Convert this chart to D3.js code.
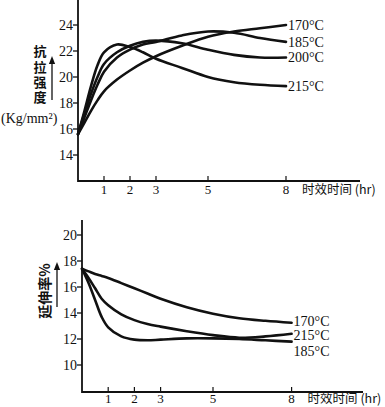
<!DOCTYPE html>
<html>
<head>
<meta charset="utf-8">
<script src="https://cdn.jsdelivr.net/npm/d3@7"></script>
<style>
  body { margin: 0; background: #fff; }
  text { fill: #111; }
</style>
</head>
<body>
<svg width="385" height="407"></svg>
<script>
var SERIF = "'Liberation Serif', 'DejaVu Serif', 'Times New Roman', serif";
var CJK = "'Noto Sans CJK SC', sans-serif";

// 时效时间 (hr)
var hoursTop = [0, 0.25, 0.5, 0.75, 1, 1.5, 2, 2.5, 3, 4, 5, 6, 7, 8];
// 抗拉强度 (Kg/mm2)
var strength170 = [15.6, 16.5, 17.4, 18.2, 18.9, 19.8, 20.5, 21.1, 21.6, 22.4, 23.1, 23.5, 23.75, 24.0];
var strength185 = [15.6, 16.9, 18.2, 19.4, 20.4, 21.5, 22.1, 22.5, 22.7, 23.2, 23.5, 23.4, 23.0, 22.7];
var strength200 = [15.6, 17.2, 18.7, 20.0, 21.0, 21.9, 22.4, 22.7, 22.8, 22.6, 22.1, 21.7, 21.5, 21.5];
var strength215 = [15.6, 17.4, 19.3, 20.9, 21.9, 22.5, 22.3, 21.9, 21.4, 20.7, 20.0, 19.6, 19.4, 19.3];
var strengthTicks = [14, 16, 18, 20, 22, 24];

var hoursBottom = [0, 0.25, 0.5, 0.75, 1, 1.5, 2, 2.5, 3, 4, 5, 6, 7, 8];
// 延伸率 %
var elong170 = [17.4, 17.2, 17.0, 16.85, 16.7, 16.3, 15.9, 15.5, 15.1, 14.45, 13.95, 13.6, 13.4, 13.25];
var elong215 = [17.4, 16.7, 15.9, 15.1, 14.6, 13.9, 13.45, 13.15, 12.95, 12.6, 12.3, 12.1, 12.2, 12.4];
var elong185 = [17.4, 16.3, 15.0, 13.7, 12.9, 12.2, 11.95, 11.9, 11.95, 12.05, 12.05, 12.0, 11.9, 11.8];
var elongTicks = [10, 12, 14, 16, 18, 20];

var hourTicks = [1, 2, 3, 5, 8];

var svg = d3.select("svg");

svg.append("defs").append("marker")
    .attr("id", "arr")
    .attr("viewBox", "0 0 10 10")
    .attr("refX", 5).attr("refY", 5)
    .attr("markerWidth", 6).attr("markerHeight", 8)
    .attr("orient", "auto")
    .append("path")
    .attr("d", "M0,1 L10,5 L0,9 Z")
    .attr("fill", "#111");

function drawPanel(opt) {
    var x = d3.scaleLinear().domain([0, 8]).range([opt.x0, opt.x0 + 8 * opt.px]);
    var y = d3.scaleLinear().domain(opt.yDomain).range(opt.yRange);

    var g = svg.append("g");

    // ejes
    g.append("line")
        .attr("x1", opt.x0).attr("x2", opt.x0)
        .attr("y1", opt.axisTop).attr("y2", opt.axisY + 1)
        .attr("stroke", "#111").attr("stroke-width", 1.8);
    g.append("line")
        .attr("x1", opt.x0).attr("x2", opt.axisRight)
        .attr("y1", opt.axisY).attr("y2", opt.axisY)
        .attr("stroke", "#111").attr("stroke-width", 1.8);

    g.selectAll(".yt").data(opt.yTicks).enter().append("line")
        .attr("x1", opt.x0 - 5).attr("x2", opt.x0)
        .attr("y1", function (d) { return y(d); })
        .attr("y2", function (d) { return y(d); })
        .attr("stroke", "#111").attr("stroke-width", 1.3);
    g.selectAll(".yl").data(opt.yTicks).enter().append("text")
        .attr("x", opt.x0 - 5)
        .attr("y", function (d) { return y(d); })
        .attr("dy", "0.35em")
        .attr("text-anchor", "end")
        .attr("font-family", SERIF)
        .attr("font-size", 14)
        .text(function (d) { return d; });

    // ticks cortos hacia arriba
    g.selectAll(".xt").data(hourTicks).enter().append("line")
        .attr("x1", function (d) { return x(d); })
        .attr("x2", function (d) { return x(d); })
        .attr("y1", opt.axisY - 5).attr("y2", opt.axisY)
        .attr("stroke", "#111").attr("stroke-width", 1.2);
    g.selectAll(".xl").data(hourTicks).enter().append("text")
        .attr("x", function (d) { return x(d); })
        .attr("y", opt.axisY + opt.labOff)
        .attr("text-anchor", "middle")
        .attr("font-family", SERIF)
        .attr("font-size", 13)
        .text(function (d) { return d; });

    g.append("text")
        .attr("x", opt.x0 + 8 * opt.px + 16)
        .attr("y", opt.axisY + opt.labOff)
        .attr("font-family", CJK)
        .attr("font-size", 12.5)
        .text("时效时间 (hr)");

    var line = d3.line()
        .x(function (d) { return x(d[0]); })
        .y(function (d) { return y(d[1]); })
        .curve(d3.curveCatmullRom.alpha(0.5));

    opt.series.forEach(function (s) {
        var pts = opt.hours.map(function (h, i) { return [h, s.values[i]]; });
        g.append("path")
            .attr("d", line(pts))
            .attr("fill", "none")
            .attr("stroke", "#111")
            .attr("stroke-width", 2.6)
            .attr("stroke-linecap", "round");
        g.append("text")
            .attr("x", x(8) + 2)
            .attr("y", y(s.values[s.values.length - 1]) + s.dy)
            .attr("dy", "0.35em")
            .attr("font-family", SERIF)
            .attr("font-size", 14)
            .text(s.name);
    });
}

drawPanel({
    x0: 78, px: 26, axisY: 181, axisTop: 0, axisRight: 360, labOff: 13,
    yDomain: [12, 24], yRange: [181, 25],
    yTicks: strengthTicks, hours: hoursTop,
    series: [
        { name: "170°C", values: strength170, dy: 0 },
        { name: "185°C", values: strength185, dy: 0 },
        { name: "200°C", values: strength200, dy: 0 },
        { name: "215°C", values: strength215, dy: 0 }
    ]
});

drawPanel({
    x0: 82, px: 26.2, axisY: 392, axisTop: 220, axisRight: 363, labOff: 11,
    yDomain: [8, 20], yRange: [391, 235],
    yTicks: elongTicks, hours: hoursBottom,
    series: [
        { name: "170°C", values: elong170, dy: -2 },
        { name: "215°C", values: elong215, dy: 1 },
        { name: "185°C", values: elong185, dy: 9 }
    ]
});

// etiqueta eje y superior (vertical)
svg.append("text")
    .attr("x", 40).attr("y", 45)
    .attr("font-family", CJK)
    .attr("font-size", 13)
    .attr("font-weight", "bold")
    .style("writing-mode", "vertical-rl")
    .style("letter-spacing", "2.3px")
    .text("抗拉强度");
svg.append("line")
    .attr("x1", 52).attr("x2", 52).attr("y1", 100).attr("y2", 60)
    .attr("stroke", "#111").attr("stroke-width", 1.3)
    .attr("marker-end", "url(#arr)");
svg.append("text")
    .attr("x", 1).attr("y", 118).attr("dy", "0.35em")
    .attr("font-family", SERIF)
    .attr("font-size", 14)
    .text("(Kg/mm²)");

// etiqueta eje y inferior
svg.append("text")
    .attr("transform", "translate(45,291)rotate(-90)")
    .attr("dy", "0.35em")
    .attr("text-anchor", "middle")
    .attr("font-family", CJK)
    .attr("font-size", 14)
    .attr("font-weight", "bold")
    .text("延伸率%");
svg.append("line")
    .attr("x1", 57).attr("x2", 57).attr("y1", 307).attr("y2", 266)
    .attr("stroke", "#111").attr("stroke-width", 1.3)
    .attr("marker-end", "url(#arr)");
</script>
</body>
</html>
